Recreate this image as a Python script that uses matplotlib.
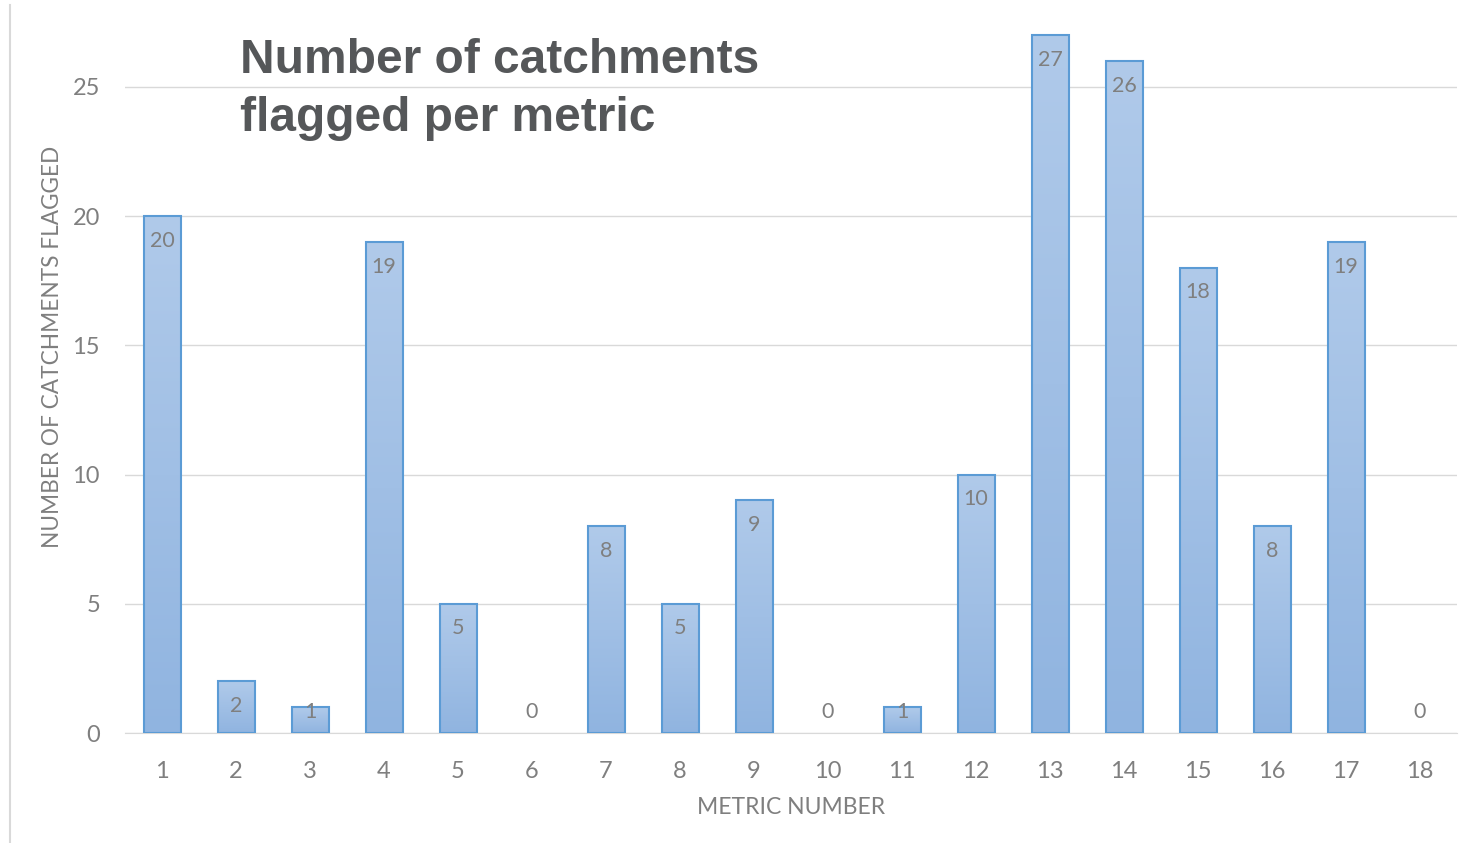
import matplotlib
matplotlib.use("Agg")
import matplotlib.pyplot as plt
import numpy as np
from matplotlib.lines import Line2D
from matplotlib.colors import LinearSegmentedColormap

metrics = [str(i) for i in range(1, 19)]
flagged = [20, 2, 1, 19, 5, 0, 8, 5, 9, 0, 1, 10, 27, 26, 18, 8, 19, 0]
yticks = [0, 5, 10, 15, 20, 25]

title = "Number of catchments\nflagged per metric"
xlabel = "METRIC NUMBER"
ylabel = "NUMBER OF CATCHMENTS FLAGGED"

grey = "#7f7f7f"
fig = plt.figure(figsize=(14.7, 8.43), dpi=100)
ax = fig.add_axes([125 / 1470, 110 / 843, (1457 - 125) / 1470, (810.3 - 110) / 843])

x = np.arange(len(metrics))
width = 0.5

grad = np.linspace(0, 1, 256).reshape(-1, 1)
cmap = LinearSegmentedColormap.from_list("g", ["#90b4e0", "#b0caea"])

bars = ax.bar(x, flagged, width=width, color="none", edgecolor="#5b9bd5", linewidth=1.5, zorder=3)
for b, v in zip(bars, flagged):
    if v <= 0:
        b.set_linewidth(0)
        continue
    x0 = b.get_x()
    im = ax.imshow(grad, extent=[x0, x0 + width, 0, v], origin="lower", cmap=cmap,
                   aspect="auto", zorder=2, interpolation="bicubic")
    im.set_clip_path(b)

ax.set_xlim(-0.5, len(metrics) - 0.5)
ax.set_ylim(0, 27.1)

for xi, v in zip(x, flagged):
    ly = max(v - 0.95, 0.81)
    ax.text(xi, ly, str(v), ha="center", va="center", fontsize=15.5, color=grey,
            family="Lato", zorder=4)

ax.set_yticks(yticks)
ax.set_xticks(x)
ax.set_xticklabels(metrics)
ax.yaxis.grid(True, color="#d9d9d9", linewidth=1)
ax.set_axisbelow(True)
for s in ["top", "right", "left"]:
    ax.spines[s].set_visible(False)
ax.spines["bottom"].set_color("#d9d9d9")
ax.tick_params(axis="both", length=0, labelsize=17, labelcolor=grey)
ax.tick_params(axis="x", pad=20)
ax.tick_params(axis="y", pad=18)
for lab in ax.get_xticklabels() + ax.get_yticklabels():
    lab.set_family("Lato")

fig.text(791 / 1470, 1 - 807 / 843, xlabel, ha="center", va="center", fontsize=16.5,
         color=grey, family="Lato")
fig.text(53 / 1470, 1 - 347 / 843, ylabel, ha="center", va="center", rotation=90,
         fontsize=16.3, color=grey, family="Lato")

fig.text(240 / 1470, 1 - 38 / 843, title, ha="left", va="top", fontsize=34.5,
         fontweight="bold", color="#555759", family="Liberation Sans", linespacing=1.38)

fig.add_artist(Line2D([10 / 1470, 10 / 1470], [0, 1 - 5 / 843], transform=fig.transFigure,
                      color="#d9d9d9", linewidth=1.5))

fig.savefig("out.png", dpi=100, facecolor="white")
